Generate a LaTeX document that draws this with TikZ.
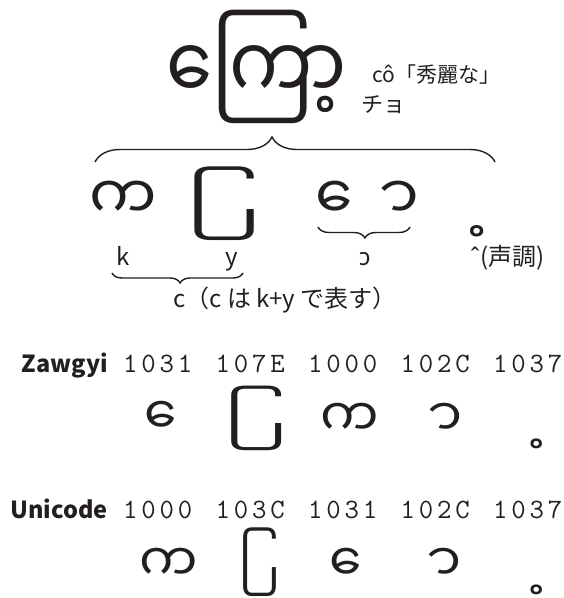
\documentclass[tikz,border=0pt]{standalone}
\usepackage{fontspec}
\usepackage{graphicx}
\usetikzlibrary{decorations.pathreplacing}
\newfontfamily\mmr[Script=Myanmar]{Noto Sans Myanmar UI}
\newfontfamily\jp{Noto Sans CJK JP}
\newfontfamily\nsans{Noto Sans}
\newfontfamily\codefont[LetterSpace=13.6]{Latin Modern Mono}
\definecolor{ink}{HTML}{231F20}
\tikzset{
  glyphA/.style={inner sep=0pt, text=ink, font=\mmr\fontsize{60}{60}\selectfont},
  glyphB/.style={inner sep=0pt, text=ink, font=\mmr\fontsize{52}{52}\selectfont},
  lab/.style={inner sep=0pt, text=ink, anchor=base, font=\jp\fontsize{24}{24}\selectfont},
  codelab/.style={inner sep=0pt, text=ink, anchor=base west, font=\codefont\fontsize{28}{28}\selectfont},
  rowlab/.style={inner sep=0pt, text=ink, anchor=base east, font=\jp\bfseries\fontsize{23.5}{23.5}\selectfont},
  bracepath/.style={draw=ink, line width=1.4pt, decorate},
}
\begin{document}
\begin{tikzpicture}[x=1pt, y=-1pt]
\useasboundingbox (0,0) rectangle (564,598);

% top word
\node[inner sep=0pt, text=ink] (word) at (257,67)
  {\scalebox{1}[1.16]{\resizebox{180pt}{!}{\mmr\fontsize{100}{100}\selectfont ကြော့}}};
\node[inner sep=0pt, text=ink, anchor=base west, font=\jp\fontsize{21}{21}\selectfont] (gloss) at (372,82) {cô「秀麗な」};
\node[inner sep=0pt, text=ink, anchor=base west, font=\jp\fontsize{22}{22}\selectfont] (kana) at (361,112) {チョ};

% big brace
\coordinate (bbL) at (95,162);
\coordinate (bbR) at (495,162);
\draw[bracepath, decoration={brace, amplitude=25pt, aspect=0.4425}] (bbL) -- (bbR);

% row 2 glyphs
\node[glyphA] (ka) at (123,200) {က};
\node[glyphA] (ra) at (207,204) {\scalebox{1.35}[0.93]{^^a0ြ}};
\node[glyphA] (ee) at (342,200) {^^a0ေ};
\node[glyphA] (aa) at (397,200) {^^a0ာ};
\node[glyphA] (dot) at (489,231) {^^a0့};

% small brace under e + aa
\coordinate (sbR) at (410,227);
\coordinate (sbL) at (318,227);
\draw[bracepath, decoration={brace, amplitude=11pt, aspect=0.49}] (sbR) -- (sbL);

% labels
\node[lab] (lk) at (123,265) {k};
\node[lab] (ly) at (232,265) {y};
\node[lab, font=\nsans\fontsize{24}{24}\selectfont] (lo) at (365,265) {ɔ};
\node[lab, anchor=base west] (lt) at (470,265) {{\nsans ˆ}(声調)};

% brace under k y
\coordinate (kbR) at (243,273);
\coordinate (kbL) at (112,273);
\draw[bracepath, decoration={brace, amplitude=10pt, aspect=0.48}] (kbR) -- (kbL);
\node[lab, anchor=base west] (lc) at (173,307) {c（c は k+y で表す）};

% Zawgyi row
\node[rowlab] (zl) at (108,372) {Zawgyi};
\node[codelab] (z1) at (123,372) {1031};
\node[codelab] (z2) at (215.5,372) {107E};
\node[codelab] (z3) at (308,372) {1000};
\node[codelab] (z4) at (400.5,372) {102C};
\node[codelab] (z5) at (493,372) {1037};
\node[glyphB] (zee) at (167,418) {^^a0ေ};
\node[glyphB] (zra) at (242.5,418) {\scalebox{1.31}[0.94]{^^a0ြ}};
\node[glyphB] (zka) at (350,420) {က};
\node[glyphB] (zaa) at (444,420) {^^a0ာ};
\node[glyphB] (zdot) at (547,444) {^^a0့};

% Unicode row
\node[rowlab] (ul) at (108,518) {Unicode};
\node[codelab] (u1) at (123,518) {1000};
\node[codelab] (u2) at (215.5,518) {103C};
\node[codelab] (u3) at (308,518) {1031};
\node[codelab] (u4) at (400.5,518) {102C};
\node[codelab] (u5) at (493,518) {1037};
\node[glyphB] (uka) at (169,565) {က};
\node[glyphB] (ura) at (250.5,562) {\scalebox{0.86}[1]{^^a0ြ}};
\node[glyphB] (uee) at (352,565) {^^a0ေ};
\node[glyphB] (uaa) at (443,565) {^^a0ာ};
\node[glyphB] (udot) at (547,590) {^^a0့};
\end{tikzpicture}
\end{document}
